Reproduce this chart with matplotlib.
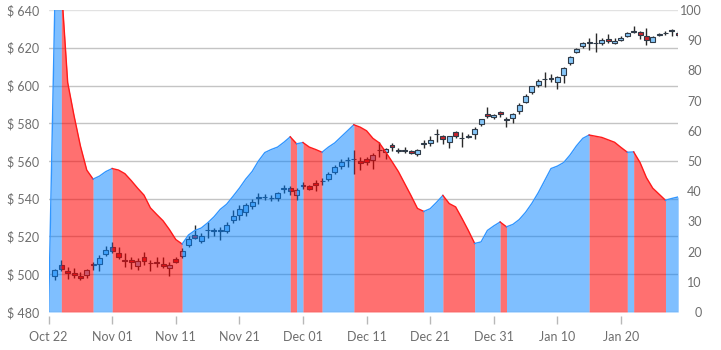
import numpy as np
import matplotlib.pyplot as plt

plt.rcParams['font.family'] = ['Lato', 'DejaVu Sans']

# x positions are days counted from Oct 22
tick_days = [0, 10, 20, 30, 40, 50, 60, 70, 80, 90]
tick_labels = ["Oct 22", "Nov 01", "Nov 11", "Nov 21", "Dec 01",
               "Dec 11", "Dec 21", "Dec 31", "Jan 10", "Jan 20"]

candle_days = list(range(1, 100))
opens = [499, 505, 501.5, 500.5, 499, 499.6, 505, 505.3, 510.7, 514.6,
         511, 507.5, 507.5, 504.5, 509, 506, 506.3, 505.3, 503.2, 508,
         509.5, 515.5, 521, 517.6, 523.2, 523.2, 523, 523, 528.8, 531.5,
         533, 536, 540.5, 540.9, 540.5, 540.6, 545.3, 545.5, 541.8, 547,
         546.5, 548.2, 549.3, 550.5, 554, 557.5, 560.3, 561, 560.2, 561,
         560.5, 565.6, 565, 568.5, 565.5, 565.6, 565.2, 563.7, 569.2, 569.3,
         574.2, 573.2, 570.3, 575.2, 572.3, 572.5, 574.3, 579.6, 585, 583.3,
         586, 582, 582.6, 586.5, 591.5, 596.5, 600.3, 603.2, 604.2, 602,
         605.6, 611.7, 618, 620.8, 622.6, 622.5, 622.7, 624.6, 622.6, 624,
         626.3, 628.6, 628.3, 626, 623.2, 627, 627.8, 629.3, 628]
highs = [503, 507.5, 504, 503.5, 501, 503, 506.5, 510, 515, 517,
         514.5, 511.5, 509.3, 508.5, 512, 507.5, 509.3, 509, 506.3, 509,
         513.7, 520, 526, 521.7, 527.5, 524.5, 525, 527.8, 534, 536.5,
         538, 540, 543, 542.5, 542, 543.7, 547.3, 546.5, 545.5, 549,
         547.5, 550, 551, 554, 558, 561, 562, 566, 562, 562,
         564, 570, 567, 569.5, 567, 567.5, 565.8, 566.5, 571, 573,
         577, 574, 573.5, 576, 575.3, 574.5, 578, 582.5, 588.5, 585,
         586.5, 583.5, 585.5, 590.5, 595.5, 600, 603.5, 607, 606, 605,
         610, 615.5, 620, 623, 625, 627.6, 625, 627.5, 625, 626,
         628.5, 631.3, 629, 630.4, 626, 628, 628.8, 630, 629]
lows = [497, 501.5, 497.5, 498, 497, 498, 502, 501.5, 509.5, 511,
        508.3, 504, 503, 502.3, 505, 501.5, 504, 503.5, 499, 505.8,
        508.5, 514.3, 518.5, 516.4, 519, 520, 518, 521.7, 527, 529,
        531, 534.5, 537, 539.3, 538.8, 538.8, 542.9, 542, 539.5, 545,
        544.5, 544, 547.5, 549.5, 553, 556, 557, 553, 555, 558,
        556, 562, 561, 565.5, 564, 564, 563.5, 562.5, 567, 568,
        570, 569, 566.7, 572, 567.5, 572, 571.5, 578.5, 583, 582.5,
        583.5, 578, 580, 585, 590.5, 595.5, 599, 599, 602, 598,
        601.5, 611, 617, 620, 619, 617.5, 621.5, 622.5, 622, 623.5,
        625.5, 627.8, 624.5, 621.5, 622.8, 626, 626.5, 626, 625.5]
closes = [502, 503, 500.5, 499.5, 498, 502.3, 505.3, 508.4, 512.8, 512.5,
          509, 507, 506.3, 507, 507.2, 505.8, 506, 504.5, 505, 506.5,
          512.5, 518.5, 519.3, 520.5, 523.5, 522.8, 523.2, 526, 531, 534.5,
          536.5, 538.5, 540.7, 541.1, 540.6, 543.2, 545.6, 544, 544.5, 547.3,
          545.2, 547.5, 549.6, 553, 557, 559.5, 560.6, 560.8, 558.8, 559.6,
          563.2, 565.9, 566.3, 567.3, 565.6, 565.4, 564.5, 565.8, 569.4, 571.1,
          574.4, 571.5, 573, 573.4, 572.1, 573.5, 577, 582, 584, 584.2,
          584.7, 581.8, 585, 589.5, 594.5, 599.5, 602.4, 603.4, 603.5, 604.7,
          609.2, 615, 619.3, 622.6, 622.8, 622.3, 624, 623.6, 623.8, 625,
          628, 628.8, 626.7, 624.1, 625.5, 627.2, 627.9, 628.8, 626.5]

ind_days = list(range(0, 100))
indicator = [0, 104, 108, 76, 65, 55, 47, 44, 45, 46.5,
             47.5, 47, 45.8, 43.5, 41, 38.7, 34.5, 32.3, 30.2, 27.3,
             24, 22.5, 25.5, 27, 27.8, 29.5, 31.5, 34, 35.7, 38.3,
             41, 44, 46.5, 50, 52.8, 53.8, 54.6, 56.2, 58, 55.7,
             56.1, 54.6, 53.8, 52.9, 54.6, 56, 58, 60, 62, 61.2,
             60, 57.5, 56, 53, 49.8, 46.5, 42.5, 38.5, 34.3, 33.3,
             34.2, 36.3, 38.6, 35.9, 34.8, 31, 27, 22.7, 23.2, 27,
             28.5, 29.8, 28.2, 29, 30.6, 33, 36, 39.5, 43.5, 47.5,
             48.3, 49.5, 52, 55, 57.5, 58.6, 58.2, 57.8, 57, 56.2,
             54.5, 52.9, 53, 49.5, 44.5, 41, 39, 37, 37.6, 38.1]

fig = plt.figure(figsize=(7.21, 3.5), dpi=100)
ax = fig.add_axes([48.6 / 721, 38 / 350, 629.6 / 721, 302 / 350])

price_ticks = list(range(480, 641, 20))
for p in price_ticks:
    ax.axhline(p, color='#e2e2e2' if p == 640 else '#c4c4c4', lw=1, zorder=0)

# candlesticks
o = np.array(opens); c = np.array(closes)
up = c >= o
body_lo = np.minimum(o, c)
body_h = np.maximum(np.abs(c - o), 0.12)
ax.vlines(candle_days, lows, highs, color='#2a2a2a', lw=1, zorder=2)
ax.bar(candle_days, body_h, bottom=body_lo, width=0.78,
       color=np.where(up, '#86c6f8', '#c8252c'), edgecolor='#2f3b48',
       linewidth=0.8, zorder=3)

ax.set_xlim(0, 99)
ax.set_ylim(480, 640)
ax.set_yticks(price_ticks)
ax.set_yticklabels([f"$ {p}" for p in price_ticks])
ax.set_xticks(tick_days)
ax.set_xticklabels(tick_labels)
for s in ax.spines.values():
    s.set_visible(False)
ax.spines['bottom'].set_position(('outward', 3))
ax.tick_params(axis='y', length=0, pad=6.5, labelsize=9, labelcolor='#6e6e6e')
ax.tick_params(axis='x', length=6, width=1, color='#b8b8b8', pad=4.5,
               labelsize=9, labelcolor='#6e6e6e')

# indicator area, blue while rising and red while falling
ax2 = ax.twinx()
v = np.array(indicator, dtype=float)
xd = np.array(ind_days, dtype=float)
rising = v[1:] >= v[:-1]
start = 0
for i in range(1, len(rising) + 1):
    if i == len(rising) or rising[i] != rising[start]:
        xs = xd[start:i + 1]
        ys = v[start:i + 1]
        if rising[start]:
            ax2.fill_between(xs, 0, ys, color='#0080ff', alpha=0.5, lw=0, zorder=1)
            ax2.plot(xs, ys, color='#3196ff', lw=1, zorder=2)
        else:
            ax2.fill_between(xs, 0, ys, color='#ff0000', alpha=0.56, lw=0, zorder=1)
            ax2.plot(xs, ys, color='#ff1a1a', lw=1, zorder=2)
        start = i

ax2.set_ylim(0, 100)
ax2.set_yticks(range(0, 101, 10))
for s in ax2.spines.values():
    s.set_visible(False)
ax2.tick_params(axis='y', length=0, pad=17, labelsize=9, labelcolor='#6e6e6e')
for lab in ax2.get_yticklabels():
    lab.set_ha('right')

fig.savefig('out.png', dpi=100)
